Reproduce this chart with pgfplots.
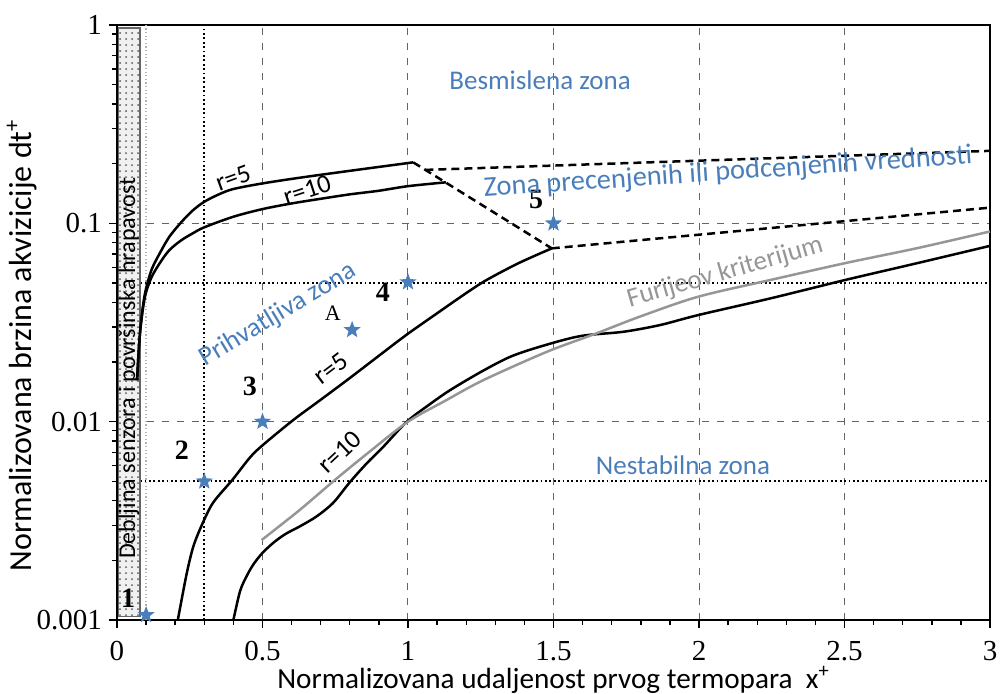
\documentclass[border=0pt]{standalone}
\usepackage{fontspec}
\setmainfont{Carlito}
\newfontfamily\tickfont{Liberation Serif}
\usepackage{pgfplots}
\pgfplotsset{compat=1.18}
\usetikzlibrary{patterns}

\definecolor{zoneblue}{RGB}{74,126,187}
\definecolor{griddash}{RGB}{100,100,100}
\definecolor{fourier}{RGB}{150,150,150}

% filled five-pointed star
\pgfdeclareplotmark{fstar}{%
  \pgfpathmoveto{\pgfpointpolar{90}{\pgfplotmarksize}}%
  \pgfpathlineto{\pgfpointpolar{126}{0.42\pgfplotmarksize}}%
  \pgfpathlineto{\pgfpointpolar{162}{\pgfplotmarksize}}%
  \pgfpathlineto{\pgfpointpolar{198}{0.42\pgfplotmarksize}}%
  \pgfpathlineto{\pgfpointpolar{234}{\pgfplotmarksize}}%
  \pgfpathlineto{\pgfpointpolar{270}{0.42\pgfplotmarksize}}%
  \pgfpathlineto{\pgfpointpolar{306}{\pgfplotmarksize}}%
  \pgfpathlineto{\pgfpointpolar{342}{0.42\pgfplotmarksize}}%
  \pgfpathlineto{\pgfpointpolar{18}{\pgfplotmarksize}}%
  \pgfpathlineto{\pgfpointpolar{54}{0.42\pgfplotmarksize}}%
  \pgfpathclose
  \pgfusepathqfill
}

\tikzset{
  refdot/.style={black, line width=1pt, dash pattern=on 0.9pt off 1.3pt},
  curve/.style={black, line width=1.25pt, smooth, tension=0.5},
  bound/.style={black, line width=1.25pt, dash pattern=on 4pt off 2.5pt},
  zone/.style={text=zoneblue, font=\fontsize{13.5}{14}\selectfont, inner sep=0pt},
  rlab/.style={font=\fontsize{13}{14}\selectfont, inner sep=0pt},
  num/.style={font=\tickfont\bfseries\fontsize{14}{14}\selectfont, inner sep=0pt},
}

\begin{document}
\begin{tikzpicture}
\useasboundingbox (-58.5pt,-36.5pt) rectangle (441.5pt,310pt);
\begin{axis}[
  scale only axis,
  width=436.5pt, height=297.5pt,
  xmin=0, xmax=3, ymin=0.001, ymax=1,
  ymode=log,
  xtick={0,0.5,1,1.5,2,2.5,3},
  xticklabels={0,0.5,1,1.5,2,2.5,3},
  minor x tick num=4,
  ytick={0.001,0.01,0.1,1},
  yticklabels={0.001,0.01,0.1,1},
  tick align=outside,
  xtick pos=bottom, ytick pos=left,
  major tick length=4pt, minor tick length=2.5pt,
  tick style={black, line width=0.7pt},
  axis line style={black, line width=1pt},
  /pgf/number format/assume math mode=true,
  ticklabel style={font=\tickfont\fontsize{14.5}{15}\selectfont},
  xticklabel style={yshift=-3pt},
  grid=major,
  major grid style={griddash, line width=0.5pt, dash pattern=on 3.5pt off 4pt},
  xlabel={Normalizovana udaljenost prvog termopara\ \ x\textsuperscript{+}},
  ylabel={Normalizovana brzina akvizicije dt\textsuperscript{+}},
  xlabel style={font=\fontsize{14.6}{15}\selectfont, at={(axis description cs:0.5,-0.1008)}, anchor=center},
  ylabel style={font=\fontsize{16}{17}\selectfont, at={(axis description cs:-0.1088,0.462)}, anchor=center},
  clip=false,
]

% reference levels
\addplot[refdot] coordinates {(0.3,0.001) (0.3,1)};
\addplot[refdot] coordinates {(0.08,0.05) (3,0.05)};
\addplot[refdot] coordinates {(0.08,0.005) (3,0.005)};
\addplot[gray!60, line width=0.6pt, dash pattern=on 0.6pt off 1.2pt] coordinates {(0.1,0.001) (0.1,1)};

% sensor thickness / surface roughness band
\addplot[draw=gray!80!black, line width=0.6pt, fill=gray!12,
  postaction={pattern=dots, pattern color=gray!70!black}]
  coordinates {(0.004,0.00104) (0.079,0.00104) (0.079,0.965) (0.004,0.965)} -- cycle;
\node[rotate=90, font=\fontsize{12}{13}\selectfont, inner sep=0pt]
  at (axis cs:0.041,0.0186) {Debljina senzora i površinska hrapavost};

% upper limits
\addplot[curve] coordinates {
  (0.069,0.0162) (0.074,0.022) (0.08,0.029) (0.09,0.039) (0.1,0.047)
  (0.12,0.059) (0.15,0.072) (0.18,0.0856) (0.22,0.101) (0.26,0.116)
  (0.3,0.1285) (0.35,0.140) (0.4,0.149) (0.5,0.159) (0.63,0.170)
  (0.8,0.184) (1.018,0.203)};
\addplot[curve] coordinates {
  (0.069,0.0162) (0.074,0.022) (0.08,0.029) (0.09,0.038) (0.1,0.045)
  (0.12,0.054) (0.15,0.064) (0.18,0.0733) (0.22,0.082) (0.26,0.089)
  (0.3,0.0955) (0.4,0.108) (0.5,0.118) (0.6,0.126) (0.7,0.133)
  (0.8,0.140) (0.9,0.146) (1.0,0.154) (1.13,0.161)};

% lower limits
\addplot[curve] coordinates {
  (0.209,0.001) (0.239,0.0017) (0.262,0.00234) (0.291,0.0030) (0.33,0.0039)
  (0.397,0.0051) (0.457,0.0066) (0.5,0.0076) (0.606,0.0102) (0.7,0.0129)
  (0.8,0.0166) (0.9,0.0215) (0.996,0.0275) (1.1,0.0352) (1.2,0.0445)
  (1.27,0.0518) (1.38,0.063) (1.494,0.0748)};
\addplot[curve] coordinates {
  (0.4,0.001) (0.423,0.0014) (0.447,0.00168) (0.47,0.00192) (0.5,0.00218)
  (0.54,0.00247) (0.58,0.00272) (0.629,0.00297) (0.686,0.00333) (0.743,0.0039)
  (0.8,0.00495) (0.858,0.00616) (0.915,0.00747) (0.996,0.0100) (1.07,0.0121)
  (1.144,0.0144) (1.25,0.0178) (1.35,0.0212) (1.454,0.0239) (1.591,0.027)
  (1.74,0.0284) (1.866,0.0307) (1.998,0.0345) (2.25,0.042) (2.502,0.0518)
  (2.75,0.063) (3.0,0.077)};

% Fourier criterion
\addplot[fourier, line width=1.25pt, smooth, tension=0.5] coordinates {
  (0.497,0.00253) (0.629,0.0036) (0.75,0.0051) (0.87,0.0071) (1.0,0.0100)
  (1.13,0.0128) (1.259,0.0162) (1.477,0.0225) (1.648,0.0279) (1.8,0.034)
  (1.998,0.0427) (2.25,0.052) (2.502,0.063) (2.75,0.075) (3.0,0.091)};

% extrapolated bounds
\addplot[bound] coordinates {(1.018,0.203) (1.494,0.0748)};
\addplot[bound] coordinates {(1.06,0.186) (3,0.232)};
\addplot[bound] coordinates {(1.494,0.0748) (3,0.12)};

% measurement points
\addplot[only marks, mark=fstar, mark size=4.5pt, color=zoneblue] coordinates {
  (0.1,0.00106) (0.3,0.005) (0.5,0.01) (0.808,0.029) (1.0,0.0505) (1.5,0.1)};

\node[num] at (axis cs:0.038,0.00129) {1};
\node[num] at (axis cs:0.223,0.0072) {2};
\node[num] at (axis cs:0.457,0.0151) {3};
\node[num] at (axis cs:0.914,0.045) {4};
\node[num] at (axis cs:1.44,0.132) {5};
\node[font=\tickfont\fontsize{11}{11}\selectfont, inner sep=0pt] at (axis cs:0.742,0.0353) {A};

% curve labels
\node[rlab, rotate=20] at (axis cs:0.399,0.169) {r=5};
\node[rlab, rotate=18] at (axis cs:0.653,0.147) {r=10};
\node[rlab, rotate=37] at (axis cs:0.735,0.0185) {r=5};
\node[rlab, rotate=43] at (axis cs:0.766,0.00703) {r=10};

% zones
\node[zone] at (axis cs:1.454,0.528) {Besmislena zona};
\node[zone, font=\fontsize{14.2}{15}\selectfont, rotate=3.9] at (axis cs:2.1,0.18) {Zona precenjenih ili podcenjenih vrednosti};
\node[zone, rotate=31] at (axis cs:0.553,0.0345) {Prihvatljiva zona};
\node[zone] at (axis cs:1.945,0.00604) {Nestabilna zona};
\node[zone, text=fourier, rotate=16] at (axis cs:2.09,0.0565) {Furijeov kriterijum};

\end{axis}
\end{tikzpicture}
\end{document}
